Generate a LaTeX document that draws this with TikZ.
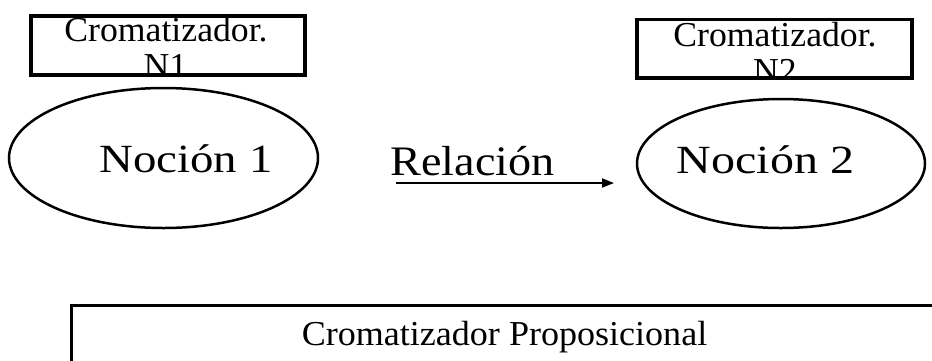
\documentclass[tikz,border=0pt]{standalone}
\usepackage{fontspec}
\setmainfont{Liberation Serif}
\usetikzlibrary{shapes.geometric,arrows.meta}
\tikzset{
  boxline/.style={draw=black,line width=3.2pt,rectangle,inner sep=0pt},
  oval/.style={draw=black,line width=2.5pt,ellipse,inner sep=0pt},
  bigtxt/.style={anchor=base,inner sep=0pt,font=\fontsize{40}{48}\selectfont},
  reltxt/.style={anchor=base,inner sep=0pt,font=\fontsize{42}{50}\selectfont},
  smalltxt/.style={anchor=base,inner sep=0pt,font=\fontsize{35}{42}\selectfont},
  relarrow/.style={line width=1.8pt,-{Triangle[length=12pt,width=9pt]}}
}
\newcommand{\sx}[2]{\scalebox{#1}[1]{#2}}
\begin{document}
\begin{tikzpicture}[x=1pt,y=-1pt]
\clip (0,0) rectangle (932,360);
\fill[white] (0,0) rectangle (932,360);
% top boxes
\node[boxline,minimum width=274pt,minimum height=59pt] (b1) at (168,45.5) {};
\node[boxline,minimum width=275pt,minimum height=58.5pt] (b2) at (774.5,48.75) {};
\begin{scope}
\clip (b1.south west) rectangle (b1.north east);
\node[smalltxt] (b1t) at (166,41.5) {\sx{1.02}{Cromatizador.}};
\node[smalltxt] (b1n) at (165.5,77.5) {\sx{1.02}{N1}};
\end{scope}
\begin{scope}
\clip (b2.south west) rectangle (b2.north east);
\node[smalltxt] (b2t) at (775,46) {\sx{1.02}{Cromatizador.}};
\node[smalltxt] (b2n) at (775,82) {\sx{1.02}{N2}};
\end{scope}
% ellipses
\node[oval,minimum width=309pt,minimum height=140pt] (e1) at (163.5,158) {};
\node[oval,minimum width=288pt,minimum height=129pt] (e2) at (781,163.5) {};
\node[bigtxt] (n1) at (186,172.5) {\sx{1.17}{Noción 1}};
\node[bigtxt] (n2) at (765.5,173) {\sx{1.2}{Noción 2}};
% relation
\node[reltxt] (rel) at (472.5,175) {\sx{1.1}{Relación}};
\coordinate (ra) at (396,183);
\coordinate (rb) at (614,183);
\draw[relarrow] (ra) -- (rb);
% bottom box
\node[boxline,anchor=north west,minimum width=900pt,minimum height=100pt] (bp) at (70,304) {};
\node[smalltxt] (bpt) at (504.5,345) {\sx{1.03}{Cromatizador Proposicional}};
\end{tikzpicture}
\end{document}
